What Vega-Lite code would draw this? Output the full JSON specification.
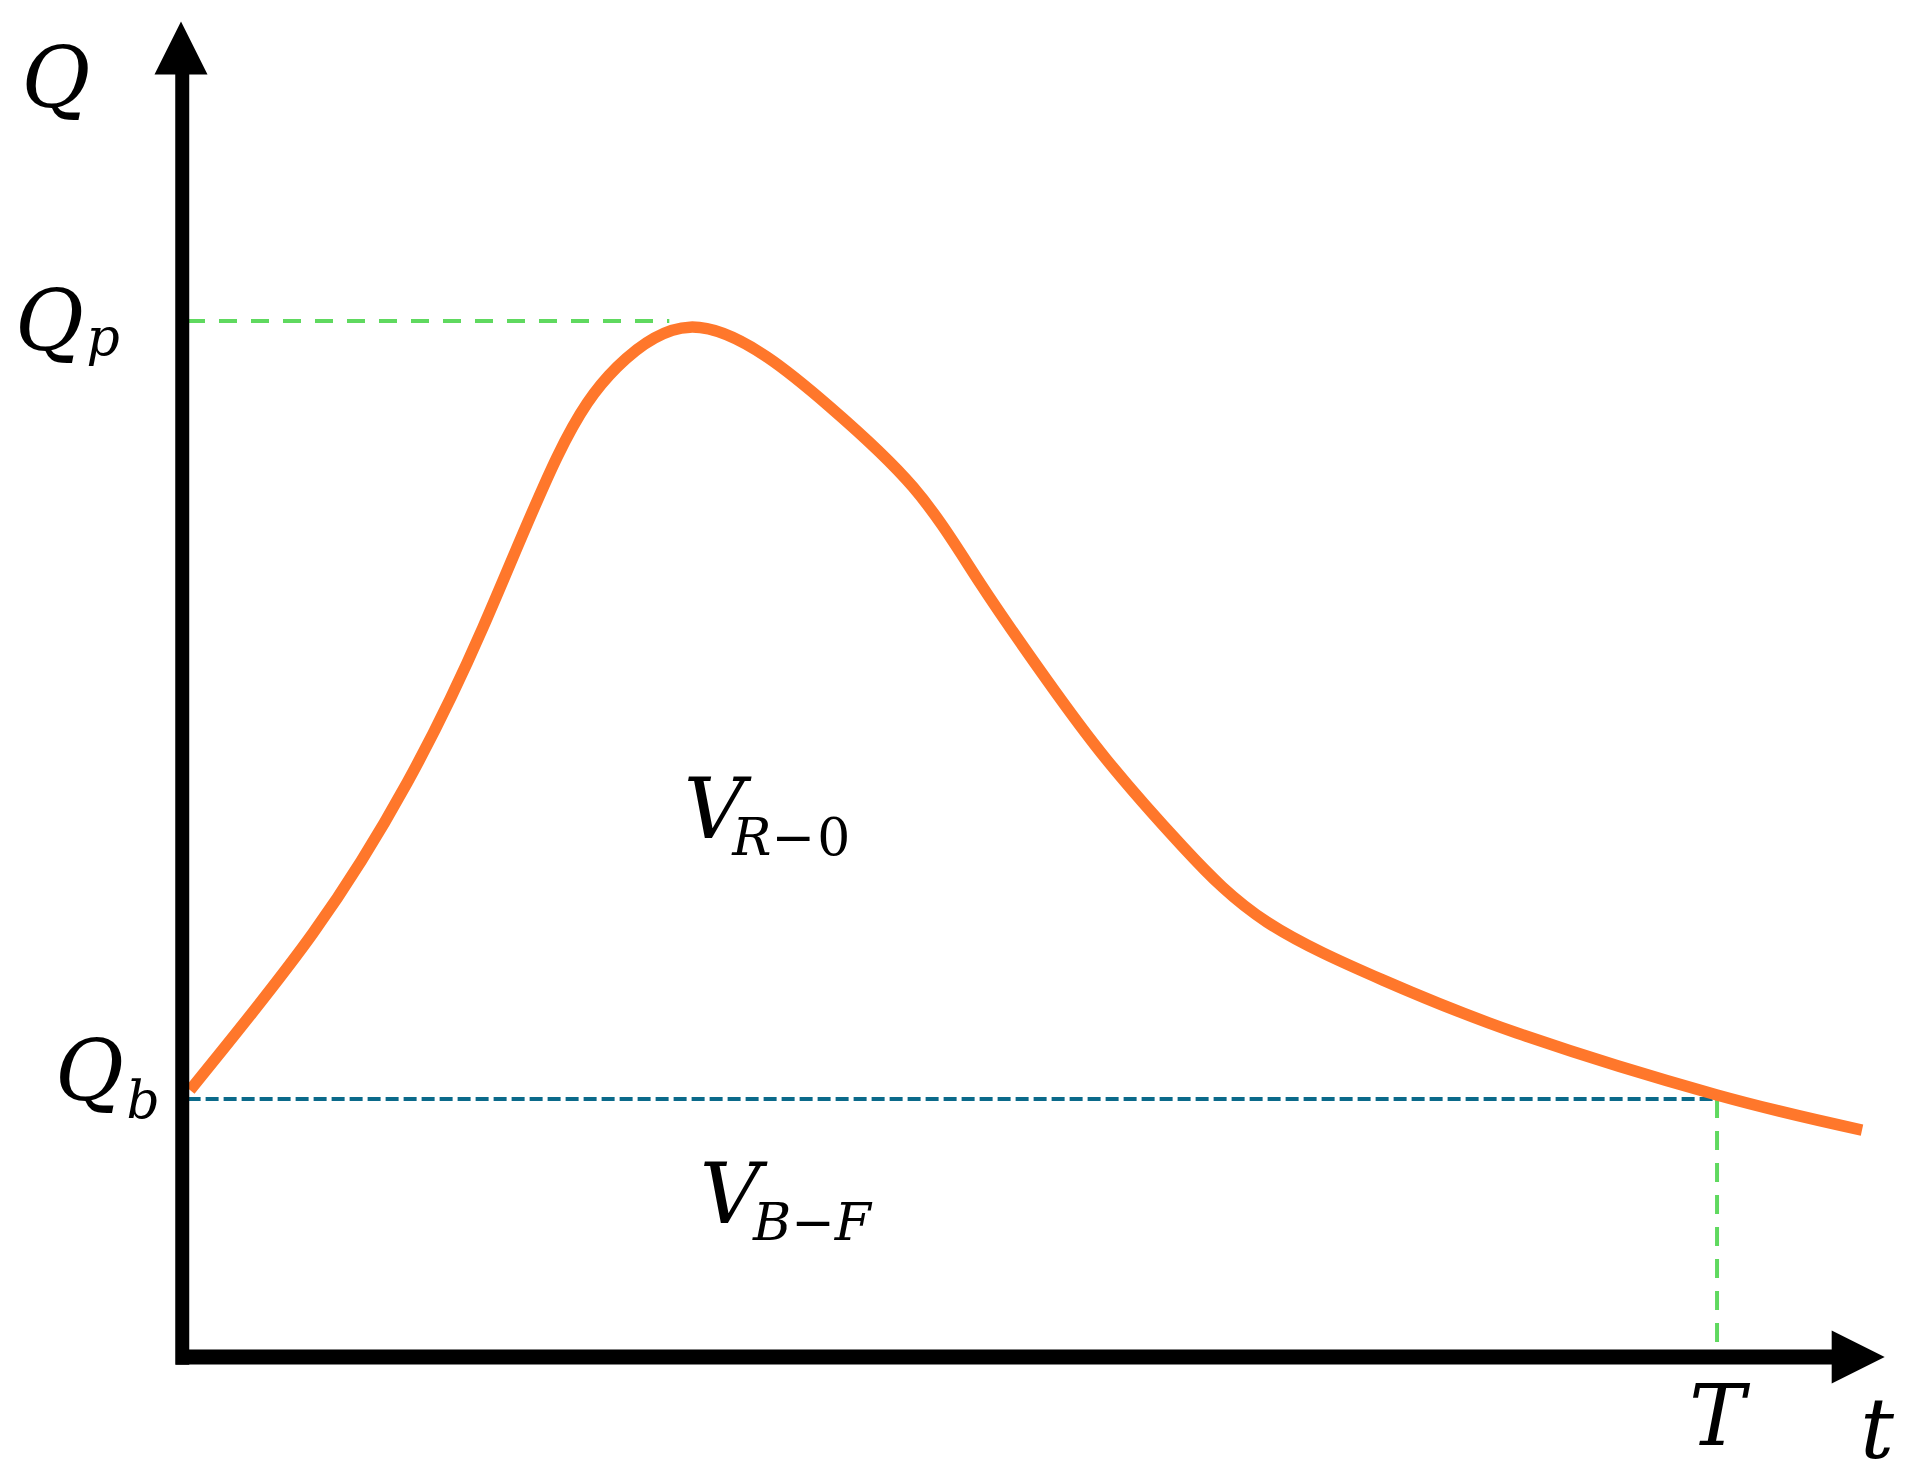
{
  "$schema": "https://vega.github.io/schema/vega-lite/v6.json",
  "width": 1916,
  "height": 1484,
  "autosize": {"type": "none"},
  "padding": 0,
  "background": "white",
  "config": {"view": {"stroke": null}},
  "datasets": {
    "curve": [
      {"t": 0.46, "Q": 10.35},
      {"t": 8.47, "Q": 16.43},
      {"t": 14.6, "Q": 22.25},
      {"t": 19.56, "Q": 28.29},
      {"t": 24.38, "Q": 34.88},
      {"t": 28.29, "Q": 38.37},
      {"t": 33.05, "Q": 39.92},
      {"t": 38.07, "Q": 38.76},
      {"t": 42.18, "Q": 36.82},
      {"t": 47.59, "Q": 33.72},
      {"t": 51.96, "Q": 30.0},
      {"t": 56.32, "Q": 26.24},
      {"t": 60.23, "Q": 23.14},
      {"t": 65.19, "Q": 19.77},
      {"t": 70.67, "Q": 16.86},
      {"t": 78.23, "Q": 14.61},
      {"t": 86.96, "Q": 12.56},
      {"t": 100.0, "Q": 10.16},
      {"t": 109.45, "Q": 8.8}
    ],
    "mainLabels": [
      {"t": -8.28, "Q": 48.45, "label": "Q"},
      {"t": -8.7, "Q": 39.03, "label": "Q"},
      {"t": -6.1, "Q": 9.96, "label": "Q"},
      {"t": 34.62, "Q": 20.12, "label": "V"},
      {"t": 35.66, "Q": 5.19, "label": "V"},
      {"t": 100.0, "Q": -3.41, "label": "T"},
      {"t": 110.43, "Q": -3.91, "label": "t"}
    ],
    "subLabels": [
      {"t": -5.2, "Q": 38.84, "label": "p"},
      {"t": -2.6, "Q": 9.26, "label": "b"},
      {"t": 41.0, "Q": 4.53, "label": "B−F"}
    ]
  },
  "encoding": {
    "x": {"field": "t", "type": "quantitative", "scale": {"domain": [-11.93, 112.97], "nice": false, "zero": false}, "axis": null},
    "y": {"field": "Q", "type": "quantitative", "scale": {"domain": [-4.92, 52.6], "nice": false, "zero": false}, "axis": null}
  },
  "layer": [
    {
      "data": {"values": [{"t": 0.26, "t2": 31.7, "Q": 40.16}]},
      "mark": {"type": "rule", "color": "#5fd95f", "strokeWidth": 4, "strokeDash": [18, 14]},
      "encoding": {"x2": {"field": "t2"}}
    },
    {
      "data": {"values": [{"t": 0.3, "t2": 100.0, "Q": 10.0}]},
      "mark": {"type": "rule", "color": "#0b6a8a", "strokeWidth": 4, "strokeDash": [13, 5]},
      "encoding": {"x2": {"field": "t2"}}
    },
    {
      "data": {"values": [{"t": 100.0, "Q": 10.0, "Q2": 0.3}]},
      "mark": {"type": "rule", "color": "#5fd95f", "strokeWidth": 4, "strokeDash": [19, 13]},
      "encoding": {"y2": {"field": "Q2"}}
    },
    {
      "data": {"name": "curve"},
      "mark": {"type": "line", "color": "#ff772b", "strokeWidth": 11.5, "interpolate": "natural", "strokeCap": "butt"},
      "encoding": {"order": {"field": "t", "type": "quantitative"}}
    },
    {
      "data": {"values": [{"t": -0.05, "Q": -0.3, "Q2": 50.0}]},
      "mark": {"type": "rule", "color": "black", "strokeWidth": 14},
      "encoding": {"y2": {"field": "Q2"}}
    },
    {
      "data": {"values": [{"t": -0.45, "t2": 108.6, "Q": 0.0}]},
      "mark": {"type": "rule", "color": "black", "strokeWidth": 15},
      "encoding": {"x2": {"field": "t2"}}
    },
    {
      "data": {"values": [{"t": -0.13, "Q": 50.74}]},
      "mark": {"type": "point", "shape": "M0,-1L1,1L-1,1Z", "size": 2809, "filled": true, "color": "black", "opacity": 1, "strokeWidth": 0}
    },
    {
      "data": {"values": [{"t": 109.2, "Q": 0.0}]},
      "mark": {"type": "point", "shape": "M1,0L-1,-1L-1,1Z", "size": 2809, "filled": true, "color": "black", "opacity": 1, "strokeWidth": 0}
    },
    {
      "data": {"name": "mainLabels"},
      "mark": {"type": "text", "font": "DejaVu Serif", "fontStyle": "italic", "fontSize": 84, "align": "center", "baseline": "alphabetic", "color": "black"},
      "encoding": {"text": {"field": "label"}}
    },
    {
      "data": {"name": "subLabels"},
      "mark": {"type": "text", "font": "DejaVu Serif", "fontStyle": "italic", "fontSize": 52, "align": "center", "baseline": "alphabetic", "color": "black"},
      "encoding": {"text": {"field": "label"}}
    },
    {
      "data": {"values": [{"t": 41.2, "Q": 19.46, "label": "R−"}]},
      "mark": {"type": "text", "font": "DejaVu Serif", "fontStyle": "italic", "fontSize": 52, "align": "right", "baseline": "alphabetic", "color": "black"},
      "encoding": {"text": {"field": "label"}}
    },
    {
      "data": {"values": [{"t": 41.35, "Q": 19.46, "label": "0"}]},
      "mark": {"type": "text", "font": "DejaVu Serif", "fontStyle": "normal", "fontSize": 52, "align": "left", "baseline": "alphabetic", "color": "black"},
      "encoding": {"text": {"field": "label"}}
    }
  ]
}
